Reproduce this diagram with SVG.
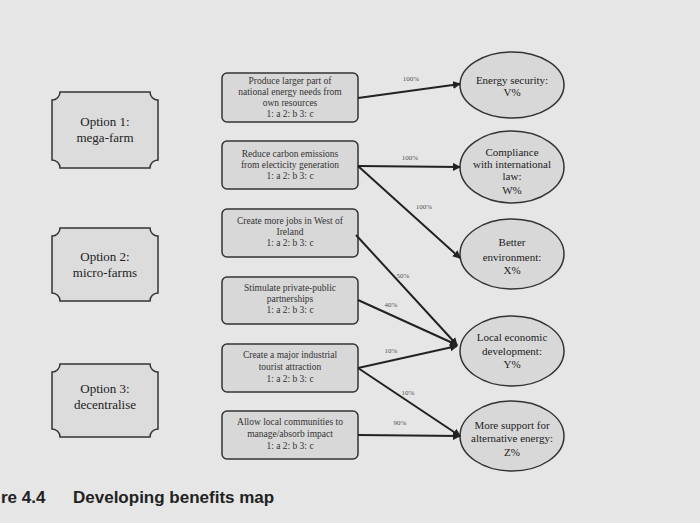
<svg xmlns="http://www.w3.org/2000/svg" width="700" height="523" viewBox="0 0 700 523">
<style>
.box{fill:#d8d8d8;stroke:#333;stroke-width:1.5}
.opt{fill:#dcdcdc;stroke:#333;stroke-width:1.5}
.t{font-family:"Liberation Serif",serif;font-size:9.5px;fill:#333;text-anchor:middle}
.to{font-family:"Liberation Serif",serif;font-size:13px;fill:#222;text-anchor:middle}
.te{font-family:"Liberation Serif",serif;font-size:11px;fill:#222;text-anchor:middle}
.l{font-family:"Liberation Serif",serif;font-size:7px;fill:#555;text-anchor:middle}
.c{stroke:#222;stroke-width:2;fill:none;marker-end:url(#a)}
</style>
<defs><marker id="a" markerWidth="8" markerHeight="8" refX="7" refY="4" orient="auto" markerUnits="userSpaceOnUse"><path d="M0,0 L8,4 L0,8 z" fill="#222"/></marker></defs>
<rect width="700" height="523" fill="#e6e6e6"/>
<g id="opt1"><path class="opt" d="M60,92 H150 A8,8 0 0 0 158,100 V160 A8,8 0 0 0 150,168 H60 A8,8 0 0 0 52,160 V100 A8,8 0 0 0 60,92 Z"/><text class="to" x="105" y="126">Option 1:</text><text class="to" x="105" y="142">mega-farm</text></g>
<g id="opt2"><path class="opt" d="M60,228 H150 A8,8 0 0 0 158,236 V293 A8,8 0 0 0 150,301 H60 A8,8 0 0 0 52,293 V236 A8,8 0 0 0 60,228 Z"/><text class="to" x="105" y="261">Option 2:</text><text class="to" x="105" y="277">micro-farms</text></g>
<g id="opt3"><path class="opt" d="M60,364 H150 A8,8 0 0 0 158,372 V429 A8,8 0 0 0 150,437 H60 A8,8 0 0 0 52,429 V372 A8,8 0 0 0 60,364 Z"/><text class="to" x="105" y="393">Option 3:</text><text class="to" x="105" y="409">decentralise</text></g>
<g id="b1"><rect class="box" x="222" y="73" width="136" height="49" rx="5"/><text class="t" x="290" y="84">Produce larger part of</text><text class="t" x="290" y="95">national energy needs from</text><text class="t" x="290" y="106">own resources</text><text class="t" x="290" y="117">1: a  2: b  3: c</text></g>
<g id="b2"><rect class="box" x="222" y="141" width="136" height="48" rx="5"/><text class="t" x="290" y="157">Reduce carbon emissions</text><text class="t" x="290" y="168">from electicity generation</text><text class="t" x="290" y="179">1: a  2: b  3: c</text></g>
<g id="b3"><rect class="box" x="222" y="209" width="136" height="48" rx="5"/><text class="t" x="290" y="224">Create more jobs in West of</text><text class="t" x="290" y="235">Ireland</text><text class="t" x="290" y="246">1: a  2: b  3: c</text></g>
<g id="b4"><rect class="box" x="222" y="277" width="136" height="47" rx="5"/><text class="t" x="290" y="291">Stimulate private-public</text><text class="t" x="290" y="302">partnerships</text><text class="t" x="290" y="313">1: a  2: b  3: c</text></g>
<g id="b5"><rect class="box" x="222" y="344" width="136" height="48" rx="5"/><text class="t" x="290" y="358">Create a major industrial</text><text class="t" x="290" y="370">tourist attraction</text><text class="t" x="290" y="382">1: a  2: b  3: c</text></g>
<g id="b6"><rect class="box" x="222" y="411" width="136" height="48" rx="5"/><text class="t" x="290" y="425">Allow local communities to</text><text class="t" x="290" y="437">manage/absorb impact</text><text class="t" x="290" y="449">1: a  2: b  3: c</text></g>
<g id="e1"><ellipse class="box" cx="512" cy="85" rx="52" ry="33"/><text class="te" x="512" y="84">Energy security:</text><text class="te" x="512" y="96">V%</text></g>
<g id="e2"><ellipse class="box" cx="512" cy="167" rx="52" ry="36"/><text class="te" x="512" y="156">Compliance</text><text class="te" x="512" y="168">with international</text><text class="te" x="512" y="180">law:</text><text class="te" x="512" y="194">W%</text></g>
<g id="e3"><ellipse class="box" cx="512" cy="254" rx="52" ry="35"/><text class="te" x="512" y="246">Better</text><text class="te" x="512" y="261">environment:</text><text class="te" x="512" y="274">X%</text></g>
<g id="e4"><ellipse class="box" cx="512" cy="351" rx="52" ry="35"/><text class="te" x="512" y="341">Local economic</text><text class="te" x="512" y="355">development:</text><text class="te" x="512" y="368">Y%</text></g>
<g id="e5"><ellipse class="box" cx="512" cy="436" rx="52" ry="35"/><text class="te" x="512" y="429">More support for</text><text class="te" x="512" y="442">alternative energy:</text><text class="te" x="512" y="456">Z%</text></g>
<g id="connectors">
<path class="c" d="M358,98 L460,84"/>
<path class="c" d="M358,166 L460,167"/>
<path class="c" d="M358,166 L460,258"/>
<path class="c" d="M356,235 L457,345"/>
<path class="c" d="M358,300 L457,345"/>
<path class="c" d="M358,368 L457,346"/>
<path class="c" d="M358,368 L460,436"/>
<path class="c" d="M358,435 L460,436"/>
<text class="l" x="411" y="81">100%</text>
<text class="l" x="410" y="160">100%</text>
<text class="l" x="424" y="209">100%</text>
<text class="l" x="403" y="278">50%</text>
<text class="l" x="391" y="307">40%</text>
<text class="l" x="391" y="353">10%</text>
<text class="l" x="408" y="395">10%</text>
<text class="l" x="400" y="425">90%</text>
</g>
<text x="1" y="503" font-family="Liberation Sans,sans-serif" font-weight="bold" font-size="17" fill="#222">re 4.4</text>
<text x="73" y="503" font-family="Liberation Sans,sans-serif" font-weight="bold" font-size="17" fill="#222">Developing benefits map</text>
</svg>
